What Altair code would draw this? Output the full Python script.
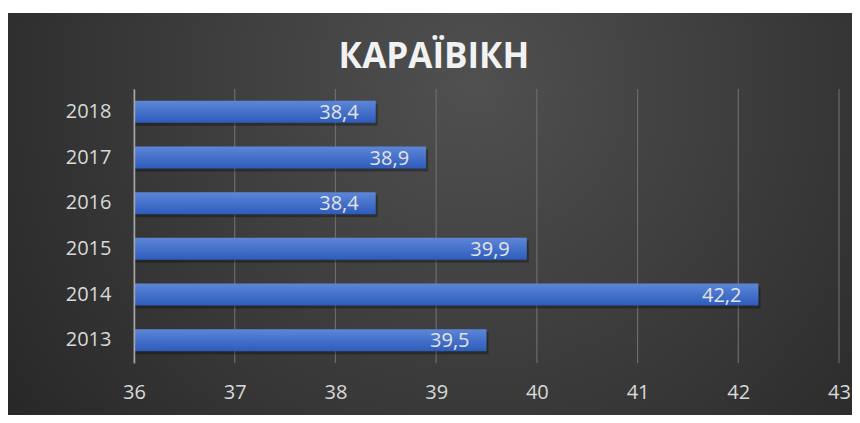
import altair as alt
import pandas as pd

title_text = "КАРАЇВІКН"
years = ["2013", "2014", "2015", "2016", "2017", "2018"]
values = [39.5, 42.2, 39.9, 38.4, 38.9, 38.4]
labels = ["39,5", "42,2", "39,9", "38,4", "38,9", "38,4"]
x_ticks = [36, 37, 38, 39, 40, 41, 42, 43]

df = pd.DataFrame({"year": years, "value": values, "label": labels})
grid_df = pd.DataFrame({"tick": x_ticks})

FONT = "Open Sans"
W, H = 705, 274
PAD = {"left": 126, "top": 81, "right": 13, "bottom": 52}
XSCALE = alt.Scale(domain=[36, 43], nice=False, zero=False)

bg = alt.Chart(alt.Data(values=[{}])).mark_rect(
    color=alt.RadialGradient(
        gradient="radial",
        stops=[alt.GradientStop(offset=0, color="#505050"),
               alt.GradientStop(offset=1, color="#202020")],
        x1=0.55, y1=0.35, r1=0, x2=0.55, y2=0.35, r2=0.8,
    )
).encode(
    x=alt.value(-PAD["left"]), x2=alt.value(W + PAD["right"]),
    y=alt.value(-PAD["top"] + 5), y2=alt.value(H + PAD["bottom"]),
)

grid = alt.Chart(grid_df).mark_rule(color="#6c6c6c", strokeWidth=1.2).encode(
    x=alt.X("tick:Q", scale=XSCALE), y=alt.value(0), y2=alt.value(H)
)

xenc = alt.X("value:Q", scale=XSCALE,
             axis=alt.Axis(values=x_ticks, format="d", title=None, grid=False, domain=False,
                           ticks=False, labelFlush=False, labelPadding=19, labelFontSize=20,
                           labelColor="#d9d9d9", labelFont=FONT, zindex=1))
yenc = alt.Y("year:N", sort=alt.SortOrder("descending"),
             scale=alt.Scale(paddingInner=0.52, paddingOuter=0.26),
             axis=alt.Axis(title=None, ticks=False, domain=True, domainColor="#a6a6a6",
                           domainWidth=1.5, grid=False, labelPadding=23, labelFontSize=20,
                           labelColor="#d9d9d9", labelFont=FONT, zindex=1))

base = alt.Chart(df)

shadow = base.mark_bar(color="black", opacity=0.3, xOffset=2, yOffset=3).encode(
    x=alt.X("value:Q", scale=XSCALE), x2=alt.datum(36), y=yenc,
)

bars = base.mark_bar(
    color=alt.LinearGradient(
        gradient="linear",
        stops=[alt.GradientStop(offset=0, color="#5d86d8"),
               alt.GradientStop(offset=1, color="#2d5cbc")],
        x1=0, y1=0, x2=0, y2=1,
    )
).encode(x=xenc, x2=alt.datum(36), y=yenc)

text = base.mark_text(align="right", baseline="middle", dx=-17, dy=1, fontSize=20,
                      color="#e3e3e3", font=FONT).encode(
    x=alt.X("value:Q"), y=alt.Y("year:N", sort=alt.SortOrder("descending")), text="label:N"
)

title = alt.Chart(alt.Data(values=[{"t": title_text}])).mark_text(
    font=FONT, fontWeight="bold", fontSize=35, color="#f2f2f2",
    align="center", baseline="alphabetic"
).encode(x=alt.value(300), y=alt.value(-21), text="t:N")

chart = alt.layer(bg, grid, shadow, bars, text, title).properties(
    width=W, height=H,
    autosize=alt.AutoSizeParams(type="none"),
    padding=PAD,
    background="white",
).configure_view(stroke=None)

chart.save("out.html", embed_options={"renderer": "svg", "actions": False})
